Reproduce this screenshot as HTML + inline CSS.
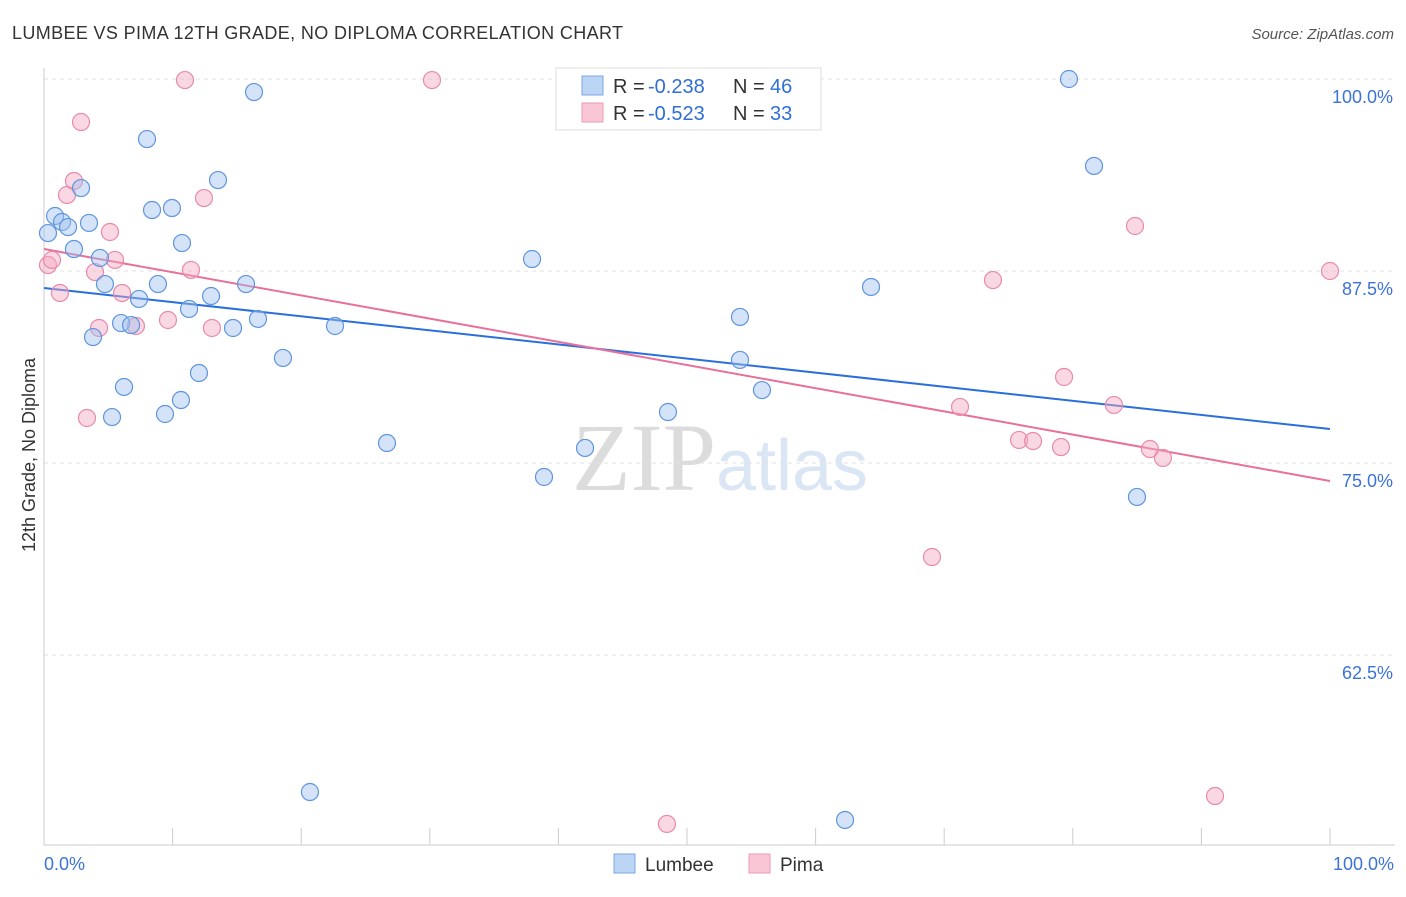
<!DOCTYPE html>
<html><head><meta charset="utf-8"><style>
body{margin:0;background:#fff;font-family:"Liberation Sans",sans-serif;}
svg text{font-family:"Liberation Sans",sans-serif;}
</style></head><body>
<svg id="chart" width="1406" height="892">
<text x="12" y="39" font-size="18" fill="#333" textLength="611">LUMBEE VS PIMA 12TH GRADE, NO DIPLOMA CORRELATION CHART</text>
<text x="1394" y="39" font-size="15" fill="#555" font-style="italic" text-anchor="end">Source: ZipAtlas.com</text>
<text x="720" y="490" font-size="96" fill="#e4e4e4" text-anchor="middle" font-family="Liberation Serif"><tspan fill="#dcdcdc" font-family="Liberation Serif">ZIP</tspan><tspan fill="#dbe6f5" font-size="72" font-family="Liberation Sans">atlas</tspan></text>
<g id="grid"></g><g id="axes"></g><g id="lines"></g><g id="points"></g>
<text transform="translate(35,455) rotate(-90)" font-size="18" fill="#333" text-anchor="middle">12th Grade, No Diploma</text>
<g>
<rect x="556" y="68" width="265" height="62" fill="#fff" stroke="#ddd"/>
<rect x="582" y="76" width="21" height="19" fill="#bcd5f5" stroke="#7aa7e6"/>
<rect x="582" y="103" width="21" height="19" fill="#f9c6d6" stroke="#eb9ab6"/>
<text x="613" y="93" font-size="20" fill="#333">R = </text><text x="648" y="93" font-size="20" fill="#2f6fd6">-0.238</text>
<text x="733" y="93" font-size="20" fill="#333">N = </text><text x="770" y="93" font-size="20" fill="#2f6fd6">46</text>
<text x="613" y="120" font-size="20" fill="#333">R = </text><text x="648" y="120" font-size="20" fill="#2f6fd6">-0.523</text>
<text x="733" y="120" font-size="20" fill="#333">N = </text><text x="770" y="120" font-size="20" fill="#2f6fd6">33</text>
</g>
<g>
<rect x="614" y="854" width="21" height="19" fill="#bcd5f5" stroke="#7aa7e6"/>
<text x="645" y="871" font-size="19" fill="#333">Lumbee</text>
<rect x="749" y="854" width="21" height="19" fill="#f9c6d6" stroke="#eb9ab6"/>
<text x="780" y="871" font-size="19" fill="#333">Pima</text>
</g>
</svg>
<script>
const lumbeeX=[0.86,1.40,1.87,2.88,3.50,2.33,4.35,4.74,3.81,5.99,6.77,7.39,6.22,5.29,8.01,8.40,9.95,10.73,8.86,11.28,12.99,14.70,16.64,12.05,10.65,9.41,13.53,16.33,15.71,18.58,22.63,26.67,37.95,38.88,42.07,48.52,54.12,54.12,55.83,64.31,79.70,81.65,84.99,20.68,62.29,0.31];
const lumbeeY=[91.08,90.69,90.36,92.90,90.63,88.93,88.35,86.65,83.20,84.11,83.98,85.68,79.95,77.99,96.09,91.47,91.60,89.32,86.65,85.03,85.87,83.79,84.38,80.86,79.10,78.19,93.42,99.15,86.65,81.84,83.92,76.30,88.28,74.09,75.98,78.32,84.51,81.71,79.75,86.46,100,94.34,72.79,53.58,51.76,89.97];
const pimaX=[0.31,0.62,1.24,1.79,2.33,2.88,3.34,3.97,4.28,5.13,5.52,6.07,7.15,9.64,10.96,11.43,12.44,13.06,30.17,48.44,69.05,71.23,73.79,75.82,76.91,79.08,79.32,83.20,84.84,86.00,87.01,91.06,100];
const pimaY=[87.89,88.22,86.07,92.45,93.36,97.20,77.93,87.43,83.79,90.04,88.22,86.07,83.92,84.31,99.93,87.57,92.25,83.79,99.93,51.50,68.88,78.65,86.91,76.50,76.43,76.04,80.60,78.78,90.43,75.91,75.33,53.32,87.50];
const lumbeeTrend=[86.39,77.21];
const pimaTrend=[88.93,73.83];
const yTicks=[100,87.5,75,62.5];
const yTickLabels=["100.0%","87.5%","75.0%","62.5%"];
const NS="http://www.w3.org/2000/svg";
const sx=v=>44+v*12.86;
const sy=v=>79+(100-v)*15.36;
function mk(p,t,a){const e=document.createElementNS(NS,t);for(const k in a)e.setAttribute(k,a[k]);p.appendChild(e);return e;}
const grid=document.getElementById('grid'),axes=document.getElementById('axes'),lines=document.getElementById('lines'),pts=document.getElementById('points');
yTicks.forEach((t,i)=>{
 const l=mk(grid,'line',{x1:44,x2:1395,y1:sy(t),y2:sy(t),stroke:'#e2e2e2','stroke-dasharray':'4,4'});
 
 
 const tx=mk(grid,'text',{x:1393,y:sy(t)+24,'font-size':18,fill:'#3b73d6','text-anchor':'end'});
 tx.textContent=yTickLabels[i];
 
 
});
mk(axes,'line',{x1:44,x2:44,y1:68,y2:845,stroke:'#ccc'});
mk(axes,'line',{x1:44,x2:1395,y1:845,y2:845,stroke:'#ccc'});
for(let i=0;i<=10;i++){const t=mk(axes,'line',{x1:sx(i*10),x2:sx(i*10),y1:828,y2:845,stroke:'#ccc'});
 
 }
const x0=mk(axes,'text',{x:44,y:870,'font-size':18,fill:'#3b73d6'});x0.textContent='0.0%';


const x1=mk(axes,'text',{x:1394,y:870,'font-size':18,fill:'#3b73d6','text-anchor':'end'});x1.textContent='100.0%';


function series(X,Y,fill,stroke,name){X.forEach((x,i)=>{const c=mk(pts,'circle',{cx:sx(x),cy:sy(Y[i]),r:8.5,fill:fill,'fill-opacity':0.45,stroke:stroke,'stroke-width':1.2});
 
 });}
series(pimaX,pimaY,'#f4a9c2','#e88aac','pima-point');
series(lumbeeX,lumbeeY,'#9fc2ef','#5f95de','lumbee-point');
const lb=mk(lines,'line',{x1:sx(0),y1:sy(lumbeeTrend[0]),x2:sx(100),y2:sy(lumbeeTrend[1]),stroke:'#2a6fdb','stroke-width':2});


const lp=mk(lines,'line',{x1:sx(0),y1:sy(pimaTrend[0]),x2:sx(100),y2:sy(pimaTrend[1]),stroke:'#e8709a','stroke-width':2});


</script>
</body></html>
